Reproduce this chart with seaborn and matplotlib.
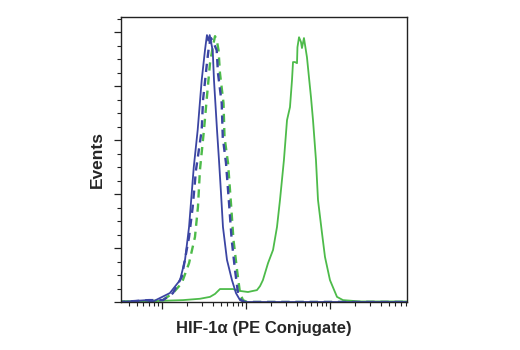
import matplotlib
matplotlib.use("Agg")
import matplotlib.pyplot as plt
import matplotlib.ticker as mticker
import seaborn as sns
import pandas as pd

# HIF-1a (PE Conjugate) intensity vs. events (%-of-max-like units)
blue_solid_x = [3.2, 6.6, 7.6, 9.5, 12.4, 16.4, 18.8, 21.0, 22.6, 23.9, 26.6, 29.7, 32.5,
                33.5, 34.3, 35.6, 37.0, 38.3, 40.2, 41.6, 45.2, 47.7, 50.4, 53.2, 59.4,
                68.1, 76.0, 84.9, 96.0, 8260]
blue_solid_y = [0, 0.7, 0, 1.5, 3.3, 8.1, 15.6, 27.8, 40.4, 50.0, 63.7, 82.2, 93.3,
                96.5, 98.9, 96.8, 98.9, 96.5, 93.0, 82.2, 63.7, 52.6, 40.4, 27.8, 15.6,
                8.1, 3.3, 0.7, 0, 0]

blue_dash_x = [3.2, 7.0, 10.3, 13.5, 17.2, 21.0, 23.2, 25.4, 29.7, 30.8, 34.3, 36.3, 38.3,
               40.5, 44.8, 46.4, 51.4, 52.9, 57.8, 62.8, 67.6, 74.0, 80.3, 87.1, 97.3, 8260]
blue_dash_y = [0, 0.7, 0.7, 3.3, 9.3, 24.1, 35.2, 48.9, 63.7, 74.8, 88.5, 95.0, 97.8,
               96.5, 93.3, 84.8, 73.7, 61.1, 51.5, 36.7, 23.0, 11.9, 3.3, 0.7, 0, 0]

green_dash_x = [3.2, 10.0, 13.5, 17.2, 21.0, 24.7, 26.8, 28.3, 31.6, 34.0, 37.3, 40.5, 42.8,
                45.2, 47.1, 49.0, 54.0, 55.5, 61.1, 66.2, 71.0, 78.2, 84.9, 92.1, 102.8, 8260]
green_dash_y = [0, 0.5, 3.3, 7.0, 14.4, 24.1, 35.2, 48.9, 63.7, 74.8, 88.5, 95.0, 98.5,
                96.5, 93.3, 84.8, 73.7, 61.1, 51.5, 36.7, 23.0, 11.9, 3.3, 0.7, 0, 0]

green_solid_x = [3.2, 7.2, 17.8, 28.3, 37.3, 42.8, 49.0, 59.4, 70.0, 84.9, 105.7, 121, 135,
                 147, 159, 183, 210, 234, 254, 283, 308, 334, 353, 363, 383, 405, 410, 428,
                 452, 464, 490, 532, 562, 594, 628, 681, 720, 803, 872, 1000, 1212, 1429,
                 2275, 8260]
green_solid_y = [0.3, 0.3, 0.7, 1.2, 1.9, 3.0, 4.8, 4.8, 4.8, 4.1, 3.7, 4.1, 4.4,
                 5.9, 8.1, 14.4, 19.3, 27.8, 37.8, 52.6, 67.4, 72.2, 82.2, 88.9, 88.9, 88.5, 94.4, 98.1,
                 96.3, 94.1, 97.8, 90.7, 83.3, 75.9, 67.4, 52.6, 37.8, 25.6, 16.7, 8.1, 1.9, 0.7,
                 0.2, 0.2]

BLUE = "#3b45a3"
GREEN = "#4dbb4a"

sns.set_style("ticks")
plt.rcParams['font.family'] = ['Liberation Sans', 'DejaVu Sans']

fig = plt.figure(figsize=(5.2, 3.5), dpi=100)
ax = fig.add_axes([121/520, 48/350, 286/520, 285/350])

gs = pd.DataFrame({"x": green_solid_x, "y": green_solid_y})
gd = pd.DataFrame({"x": green_dash_x, "y": green_dash_y})
bd = pd.DataFrame({"x": blue_dash_x, "y": blue_dash_y})
bs = pd.DataFrame({"x": blue_solid_x, "y": blue_solid_y})

sns.lineplot(data=gs, x="x", y="y", ax=ax, color=GREEN, lw=1.3, estimator=None, sort=False)
sns.lineplot(data=gd, x="x", y="y", ax=ax, color=GREEN, lw=1.7, estimator=None, sort=False,
             linestyle=(0, (3.5, 2.5)))
sns.lineplot(data=bd, x="x", y="y", ax=ax, color=BLUE, lw=1.7, estimator=None, sort=False,
             linestyle=(1.5, (3.5, 2.5)))
sns.lineplot(data=bs, x="x", y="y", ax=ax, color=BLUE, lw=1.3, estimator=None, sort=False)

ax.set_xscale("log")
ax.set_xlim(10**0.512, 10**3.917)
ax.set_ylim(0, 105.6)

ax.xaxis.set_major_locator(mticker.LogLocator(base=10, numticks=10))
ax.xaxis.set_minor_locator(mticker.LogLocator(base=10, subs=range(2, 10), numticks=20))
ax.xaxis.set_major_formatter(mticker.NullFormatter())
ax.xaxis.set_minor_formatter(mticker.NullFormatter())
ax.yaxis.set_major_locator(mticker.MultipleLocator(20))
ax.yaxis.set_minor_locator(mticker.MultipleLocator(5))
ax.yaxis.set_major_formatter(mticker.NullFormatter())

for s in ax.spines.values():
    s.set_visible(True)
    s.set_color("#222222")
    s.set_linewidth(1.0)

ax.tick_params(which="major", length=5, width=0.9, color="#222222", direction="out")
ax.tick_params(which="minor", length=3, width=0.8, color="#222222", direction="out")

ax.set_xlabel("HIF-1α (PE Conjugate)", fontsize=12, fontweight="bold", labelpad=5)
ax.set_ylabel("Events", fontsize=12.5, fontweight="bold", labelpad=3)

fig.savefig("out.png", dpi=100)
